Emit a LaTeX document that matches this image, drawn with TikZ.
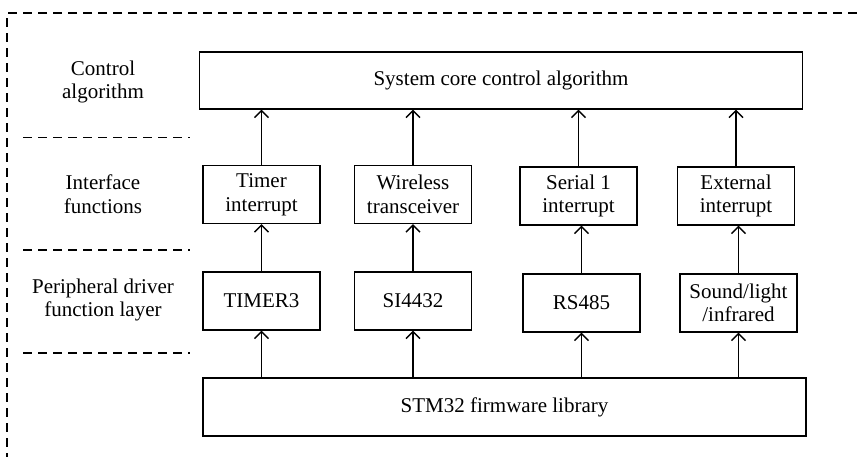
\documentclass[tikz,border=0pt]{standalone}
\usepackage{fontspec}
\setmainfont{Liberation Serif}
\usetikzlibrary{arrows.meta}

\begin{document}
\begin{tikzpicture}[x=0.5pt,y=-0.5pt,font=\fontsize{10.5}{11.8}\selectfont,
		box/.style={draw,line width=0.7pt,align=center,inner sep=0pt,minimum width=58.5pt,minimum height=29pt},
		wide/.style={box,minimum width=301.5pt,minimum height=28.5pt},
		sep/.style={line width=0.7pt,dash pattern=on 4.5pt off 3pt},
		up/.style={line width=0.7pt,-{Straight Barb[length=3.5pt,width=7pt]}}]
				\useasboundingbox (0,0) rectangle (857,457);
				\draw[sep] (857,13) -- (7,13) -- (7,457);
				\draw[sep] (23,137.5) -- (190,137.5);
				\draw[sep] (23,250) -- (190,250);
				\draw[sep] (23,353) -- (190,353);
				
				\node (lc) at (103,82) [align=center] {Control\\algorithm};
				\node (li) at (103,194) [align=center] {Interface\\functions};
				\node (lp) at (103,300) [align=center] {Peripheral driver\\function layer};
				
				\node (core) at (501,80.5) [wide] {System core control algorithm};
				\node (ti) at (261.5,194.5) [box] {Timer\\interrupt};
				\node (wt) at (413,194.5) [box] {Wireless\\transceiver};
				\node (si) at (578.5,196) [box] {Serial 1\\interrupt};
				\node (ei) at (736,196) [box] {External\\interrupt};
				\node (tm) at (261.5,301) [box] {TIMER3};
				\node (rf) at (413,301) [box] {SI4432};
				\node (rs) at (581.5,303) [box] {RS485};
				\node (sl) at (738.5,303) [box] {Sound/light\\/infrared};
				\node (lib) at (504.5,407) [wide,minimum height=29pt] {STM32 firmware library};
				
				\draw[up] (ti.north) -- (ti.north |- core.south);
				\draw[up] (wt.north) -- (wt.north |- core.south);
				\draw[up] (si.north) -- (si.north |- core.south);
				\draw[up] (ei.north) -- (ei.north |- core.south);
				\draw[up] (tm.north) -- (tm.north |- ti.south);
				\draw[up] (rf.north) -- (rf.north |- wt.south);
				\draw[up] (rs.north) -- (rs.north |- si.south);
				\draw[up] (sl.north) -- (sl.north |- ei.south);
				\draw[up] (tm.south |- lib.north) -- (tm.south);
				\draw[up] (rf.south |- lib.north) -- (rf.south);
				\draw[up] (rs.south |- lib.north) -- (rs.south);
				\draw[up] (sl.south |- lib.north) -- (sl.south);
			\end{tikzpicture}
\end{document}
